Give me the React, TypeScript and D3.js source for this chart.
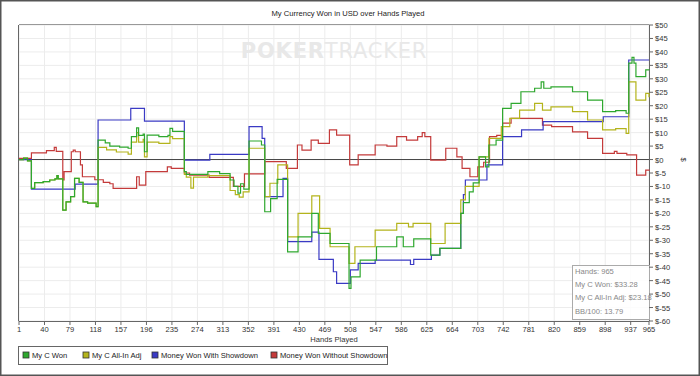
import React from "react";
import * as d3 from "d3";

const title = "My Currency Won in USD over Hands Played";
const xTicks = [1, 40, 79, 118, 157, 196, 235, 274, 313, 352, 391, 430, 469, 508, 547, 586, 625, 664, 703, 742, 781, 820, 859, 898, 937, 965];
const yTicks = [50, 45, 40, 35, 30, 25, 20, 15, 10, 5, 0, -5, -10, -15, -20, -25, -30, -35, -40, -45, -50, -55, -60];

// [hand, value] step points
const myCWon: [number, number][] = [[1,0],[8,0.5],[14,-0.5],[20,-10.7],[25,-8.6],[38,-8.2],[48,-7.6],[56,-7.2],[59,-6],[61,-7.2],[68,-18.8],[73,-15.7],[80,-13.8],[86,-7],[93,-8.5],[99,-15.7],[106,-16.2],[119,-17.5],[122,7.2],[133,6.2],[140,5],[155,4.6],[168,4.2],[173,8.5],[181,11.8],[184,9],[191,9.5],[193,2.9],[197,9.1],[215,8.5],[229,9],[232,11.6],[236,10.5],[254,-4.5],[257,-5.5],[290,-4.5],[308,-5.2],[324,-7.6],[330,-10],[336,-12.5],[340,-9],[345,-11],[353,6.9],[372,5.4],[377,-19.4],[386,-14.5],[396,-7.4],[412,-34.3],[428,-28.7],[449,-20],[459,-27.4],[477,-31.2],[506,-47.9],[509,-43.6],[523,-37.4],[548,-32.4],[579,-28.7],[589,-32.4],[605,-29.5],[631,-35.5],[645,-33],[677,-20],[681,-16],[690,-12],[696,-8.7],[705,1],[715,-2.7],[720,5.4],[731,7.2],[741,19],[754,20.9],[769,25.2],[790,26.5],[800,28.9],[804,26.5],[815,27],[848,25.2],[871,22.1],[894,17.8],[914,18.2],[930,17.2],[934,35.8],[939,38],[942,35.8],[945,30.8],[960,33.3],[965,33.28]];

const myCAllInAdj: [number, number][] = [[1,0],[8,0.5],[14,-0.5],[20,-10.7],[25,-8.6],[38,-8.2],[48,-7.6],[56,-7.2],[59,-6],[61,-7.2],[68,-18.8],[73,-15.7],[80,-13.8],[86,-7],[93,-8.5],[99,-15.7],[106,-16.2],[119,-17.5],[122,4.5],[135,3.6],[150,2.8],[168,2],[173,6.5],[181,10],[184,6.5],[191,7.5],[193,1],[197,6.5],[215,6],[232,8.5],[236,7.8],[254,-5.5],[257,-6.5],[264,-10.6],[268,-6.5],[290,-6],[324,-11.5],[332,-13],[338,-14],[344,-12],[353,4.2],[377,-13.8],[385,-8.8],[397,-2],[412,-28.7],[428,-20],[449,-13.5],[461,-25.6],[477,-32.4],[506,-38.6],[515,-32.4],[546,-26.2],[579,-23.7],[597,-25],[604,-23.7],[631,-31.2],[653,-23.7],[677,-15],[684,-10],[705,1],[720,7.9],[739,12.2],[752,15.3],[767,18.4],[790,20.9],[802,18.4],[815,19.6],[848,17.8],[871,14.7],[894,11],[914,11.5],[930,9.7],[934,28.9],[945,22.1],[960,24.6],[965,23.18]];

const withShowdown: [number, number][] = [[1,0],[20,-11],[87,-9.1],[122,14.7],[172,19],[193,14.3],[254,-0.2],[293,1.9],[353,12.2],[373,7.9],[377,-13.8],[405,-7],[412,-30.5],[449,-27],[460,-37.1],[482,-41.7],[487,-46],[508,-41],[520,-38.6],[546,-37.4],[600,-39],[605,-37.1],[632,-35.5],[645,-33],[677,-20],[681,-13],[684,-7.6],[717,-2],[741,8.5],[770,11],[803,14.1],[895,15.9],[934,37],[965,37]];

const withoutShowdown: [number, number][] = [[1,0.4],[20,2.5],[43,3.3],[55,4.5],[58,3],[68,-7.6],[70,-4.5],[81,2.9],[84,3.5],[87,2.9],[95,-2],[98,-6.4],[117,-7.5],[130,-8.5],[140,-9],[145,-10.7],[181,-6.4],[185,-9.5],[195,-4.5],[228,-2.7],[234,-3.3],[254,-5],[262,-5.8],[292,-6.6],[329,-10],[346,-5.3],[377,-0.8],[410,-3.3],[427,5.4],[434,3.5],[448,7.2],[459,6],[476,11],[487,9.1],[507,-2],[520,1.7],[546,5.4],[564,5],[579,8.5],[594,7.2],[611,8.5],[618,10],[622,8.5],[631,-0.2],[654,4.2],[671,1],[679,-3.3],[691,-6.4],[703,-2.7],[712,-1],[721,8.5],[732,9],[741,13.5],[754,15.3],[802,12.8],[816,12.2],[848,10.3],[871,7.9],[894,2.3],[912,3],[916,2.3],[931,1.7],[946,-5.8],[960,-3.9],[965,-3.7]];

const seriesNames = ["My C Won", "My C All-In Adj", "Money Won With Showdown", "Money Won Without Showdown"];
const seriesColors = ["#2ea82e", "#b4b41c", "#3a3ac4", "#c43a3a"];
const statsLines = ["Hands: 965", "My C Won: $33.28", "My C All-In Adj: $23.18", "BB/100: 13.79"];

const W = 700, H = 376;
const L = 19, R = 649, T = 25, B = 321;
const FONT = "'Liberation Sans', Arial, sans-serif";
const FS = 7.6;

export default function App() {
  const x = d3.scaleLinear().domain([1, 965]).range([L, R]);
  const y = d3.scaleLinear().domain([-60, 50]).range([B, T]);
  const line = d3.line<[number, number]>().x(d => x(d[0])).y(d => y(d[1])).curve(d3.curveStepAfter);
  const data = [myCWon, myCAllInAdj, withShowdown, withoutShowdown];
  const drawOrder = [3, 2, 1, 0];
  const legendX = [23, 83, 152, 271];

  return (
    <div style={{ position: "fixed", left: 0, top: 0 }}>
      <svg width={W} height={H} style={{ display: "block", fontFamily: FONT }}>
        <rect x={0} y={0} width={W} height={H} fill="#fff" />
        <rect x={0.75} y={0.75} width={W - 1.5} height={H - 1.5} fill="none" stroke="#555" strokeWidth={1.5} />
        <text x={348} y={16} textAnchor="middle" fontSize={FS} fill="#222">{title}</text>
        {/* grid */}
        {yTicks.map(t => (
          <line key={"gy" + t} x1={L} x2={R} y1={y(t)} y2={y(t)} stroke="#ececec" strokeWidth={1} />
        ))}
        {xTicks.map(t => (
          <line key={"gx" + t} x1={x(t)} x2={x(t)} y1={T} y2={B} stroke="#ececec" strokeWidth={1} />
        ))}
        {/* watermark */}
        <text x={334} y={58} textAnchor="middle" fontSize={21} fill="#e8e8e8" letterSpacing={0.8} fontFamily="'DejaVu Sans', sans-serif">
          <tspan fontWeight="bold">POKER</tspan><tspan fontWeight="normal">TRACKER</tspan>
        </text>
        {/* plot frame */}
        <line x1={L} x2={R} y1={T - 0.5} y2={T - 0.5} stroke="#999" />
        <line x1={L - 0.5} x2={L - 0.5} y1={T} y2={B} stroke="#666" />
        <line x1={L} x2={R} y1={B + 0.5} y2={B + 0.5} stroke="#666" />
        <line x1={R + 0.5} x2={R + 0.5} y1={T} y2={B} stroke="#666" />
        {/* zero line */}
        <line x1={L} x2={R} y1={y(0)} y2={y(0)} stroke="#444" strokeWidth={1} />
        {/* series */}
        {drawOrder.map(i => (
          <path key={"s" + i} d={line(data[i]) || ""} fill="none" stroke={seriesColors[i]} strokeWidth={1.2} />
        ))}
        {/* stats box */}
        <rect x={572.5} y={265.5} width={77} height={54} fill="#fff" fillOpacity={0.85} stroke="#aaa" />
        {statsLines.map((s, i) => (
          <text key={"st" + i} x={575} y={274 + i * 13.2} fontSize={FS} fill="#888">{s}</text>
        ))}
        {/* right axis */}
        {yTicks.map(t => (
          <g key={"ty" + t}>
            <line x1={R} x2={R + 4} y1={y(t)} y2={y(t)} stroke="#666" />
            <text x={R + 6} y={y(t) + 3} fontSize={FS} fill="#333">{"$" + t}</text>
          </g>
        ))}
        <text transform={`translate(681,${y(0)}) rotate(90)`} textAnchor="middle" fontSize={FS} fill="#333">$</text>
        {/* bottom axis */}
        {xTicks.map(t => (
          <g key={"tx" + t}>
            <line x1={x(t)} x2={x(t)} y1={B} y2={B + 4} stroke="#666" />
            <text x={x(t)} y={B + 11} textAnchor="middle" fontSize={FS} fill="#333">{t}</text>
          </g>
        ))}
        <text x={(L + R) / 2} y={342} textAnchor="middle" fontSize={FS} fill="#333">Hands Played</text>
        {/* legend */}
        <rect x={18.5} y={346.5} width={369} height={18} fill="#fff" stroke="#666" />
        {seriesNames.map((n, i) => (
          <g key={"lg" + i}>
            <rect x={legendX[i]} y={352} width={6} height={6} fill={seriesColors[i]} stroke="#333" strokeWidth={0.8} />
            <text x={legendX[i] + 9} y={358} fontSize={FS} fill="#222">{n}</text>
          </g>
        ))}
      </svg>
    </div>
  );
}
